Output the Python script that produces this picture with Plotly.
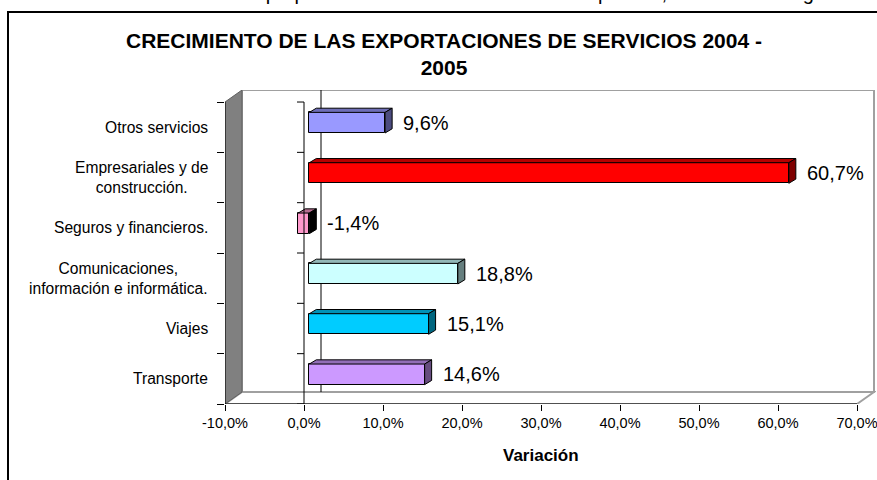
import plotly.graph_objects as go

# ---------------- data ----------------
categories = [
    "Transporte",
    "Viajes",
    "Comunicaciones,<br>información e informática.",
    "Seguros y financieros.",
    "Empresariales y de<br>construcción.",
    "Otros servicios",
]
values = [14.6, 15.1, 18.8, -1.4, 60.7, 9.6]
value_labels = ["14,6%", "15,1%", "18,8%", "-1,4%", "60,7%", "9,6%"]
bar_colors = ["#CC99FF", "#00CCFF", "#CCFFFF", "#FF99CC", "#FF0000", "#9999FF"]
tick_values = [-10, 0, 10, 20, 30, 40, 50, 60, 70]
tick_labels = ["-10,0%", "0,0%", "10,0%", "20,0%", "30,0%", "40,0%", "50,0%", "60,0%", "70,0%"]
title_text = "CRECIMIENTO DE LAS EXPORTACIONES DE SERVICIOS 2004 -<br>2005"
axis_title = "Variación"
source_text = "Fuente: Cálculos propios con datos del Banco de la República, Balanza de Pagos"

# ---------------- geometry (styling) ----------------
W, H = 877, 480
L, R, T, B = 225, 1, 90, 76
plot_w = W - L - R
plot_h = H - T - B
PX_X = 7.90          # pixels per percentage point
PX_Y = 50.33         # pixels per category
XMIN, XMAX = tick_values[0], tick_values[-1]
n = len(categories)
y_lo, y_hi = -0.5, n - 0.5
x_range = [XMIN, XMIN + plot_w / PX_X]
y_range = [y_lo, y_lo + plot_h / PX_Y]

WALL_DX, WALL_DY = 17 / PX_X, 12 / PX_Y
BAR_OFF_X, BAR_OFF_Y = 5.3 / PX_X, 4.5 / PX_Y
BAR_W = 20.6 / PX_Y
BAR_DX, BAR_DY = 7 / PX_X, 4.2 / PX_Y
TICK = 7 / PX_X

FONT = "Liberation Sans, Arial, sans-serif"


def pxx(px):
    return (px - L) / plot_w


def pxy(py):
    return (H - B - py) / plot_h


def shade(hexcol, f):
    h = hexcol.lstrip("#")
    r, g, b = (int(h[i:i + 2], 16) for i in (0, 2, 4))
    return "rgb(%d,%d,%d)" % (r * f, g * f, b * f)


def poly(pts):
    return "M " + " L ".join("%f,%f" % p for p in pts) + " Z"


shapes = []
# back wall
shapes.append(dict(type="rect", xref="x", yref="y", layer="below",
                   x0=XMIN + WALL_DX, x1=XMAX + WALL_DX, y0=y_lo + WALL_DY, y1=y_hi + WALL_DY,
                   fillcolor="white", line=dict(color="#A0A0A0", width=2)))
# floor
shapes.append(dict(type="path", xref="x", yref="y", layer="below",
                   path=poly([(XMIN, y_lo), (XMAX, y_lo), (XMAX + WALL_DX, y_lo + WALL_DY),
                              (XMIN + WALL_DX, y_lo + WALL_DY)]),
                   fillcolor="white", line=dict(color="#A0A0A0", width=2)))
# left wall
shapes.append(dict(type="path", xref="x", yref="y", layer="below",
                   path=poly([(XMIN, y_lo), (XMIN + WALL_DX, y_lo + WALL_DY),
                              (XMIN + WALL_DX, y_hi + WALL_DY), (XMIN, y_hi)]),
                   fillcolor="#808080", line=dict(color="#606060", width=1)))
# back gridline at zero
shapes.append(dict(type="line", xref="x", yref="y", layer="below",
                   x0=WALL_DX, x1=WALL_DX, y0=y_lo + WALL_DY, y1=y_hi + WALL_DY,
                   line=dict(color="black", width=1)))

# 3D faces of bars
for i, v in enumerate(values):
    a, b = BAR_OFF_X, BAR_OFF_X + v
    x0, x1 = min(a, b), max(a, b)
    yc = i + BAR_OFF_Y
    yt, yb = yc + BAR_W / 2, yc - BAR_W / 2
    shapes.append(dict(type="path", xref="x", yref="y", layer="above",
                       path=poly([(x0, yt), (x1, yt), (x1 + BAR_DX, yt + BAR_DY), (x0 + BAR_DX, yt + BAR_DY)]),
                       fillcolor=shade(bar_colors[i], 0.72), line=dict(color="black", width=1)))
    side = "black" if v < 0 else shade(bar_colors[i], 0.5)
    shapes.append(dict(type="path", xref="x", yref="y", layer="above",
                       path=poly([(x1, yb), (x1, yt), (x1 + BAR_DX, yt + BAR_DY), (x1 + BAR_DX, yb + BAR_DY)]),
                       fillcolor=side, line=dict(color="black", width=1)))

# front axis lines
for (xa, ya, xb, yb_) in [(XMIN, y_lo, XMAX, y_lo), (XMIN, y_lo, XMIN, y_hi), (0, y_lo, 0, y_hi)]:
    shapes.append(dict(type="line", xref="x", yref="y", layer="above",
                       x0=xa, y0=ya, x1=xb, y1=yb_, line=dict(color="black", width=1)))
for k in range(n + 1):
    yk = y_lo + k
    shapes.append(dict(type="line", xref="x", yref="y", layer="above",
                       x0=-TICK, x1=0, y0=yk, y1=yk, line=dict(color="black", width=1)))

# outer frame
shapes.append(dict(type="rect", xref="paper", yref="paper",
                   x0=pxx(8), x1=pxx(885), y0=pxy(490), y1=pxy(12),
                   line=dict(color="black", width=2), fillcolor="rgba(0,0,0,0)"))

fig = go.Figure()
fig.add_trace(go.Bar(
    y=[i + BAR_OFF_Y for i in range(n)], x=values, base=BAR_OFF_X,
    orientation="h", width=BAR_W,
    marker=dict(color=bar_colors, line=dict(color="black", width=1)),
    hoverinfo="skip", showlegend=False,
))

annotations = []
for i, v in enumerate(values):
    x_end = max(BAR_OFF_X, BAR_OFF_X + v) + BAR_DX
    annotations.append(dict(x=x_end, y=i + BAR_OFF_Y, xref="x", yref="y", text=value_labels[i],
                            xanchor="left", yanchor="middle", xshift=9, showarrow=False,
                            font=dict(family=FONT, size=20, color="black")))
for i, c in enumerate(categories):
    annotations.append(dict(x=pxx(210), y=i, xref="paper", yref="y", text=c,
                            xanchor="right", yanchor="middle", align="center", showarrow=False,
                            font=dict(family=FONT, size=15.6, color="black")))
annotations.append(dict(x=pxx(444), y=pxy(54), xref="paper", yref="paper", text="<b>%s</b>" % title_text,
                        xanchor="center", yanchor="middle", align="center", showarrow=False,
                        font=dict(family=FONT, size=21, color="black")))
annotations.append(dict(x=pxx(541), y=pxy(455), xref="paper", yref="paper", text="<b>%s</b>" % axis_title,
                        xanchor="center", yanchor="middle", showarrow=False,
                        font=dict(family=FONT, size=17, color="black")))
annotations.append(dict(x=pxx(472), y=pxy(-7), xref="paper", yref="paper", text=source_text,
                        xanchor="center", yanchor="middle", showarrow=False,
                        font=dict(family=FONT, size=20, color="black")))

fig.update_layout(
    width=W, height=H,
    margin=dict(l=L, r=R, t=T, b=B, pad=0),
    paper_bgcolor="white", plot_bgcolor="white",
    showlegend=False, bargap=0,
    xaxis=dict(range=x_range, tickmode="array", tickvals=tick_values, ticktext=tick_labels,
               ticks="outside", ticklen=6, tickcolor="black", tickwidth=1,
               showgrid=False, zeroline=False, showline=False, automargin=False,
               ticklabeloverflow="allow",
               tickfont=dict(family=FONT, size=14.5, color="black")),
    yaxis=dict(range=y_range, tickmode="array", tickvals=[], showticklabels=False,
               showgrid=False, zeroline=False, showline=False, automargin=False,
               minor=dict(tickmode="array", tickvals=[y_lo + k for k in range(n + 1)],
                          ticks="outside", ticklen=7, tickcolor="black", tickwidth=1, showgrid=False)),
    shapes=shapes,
    annotations=annotations,
)

fig.write_html("out.html", config={"displayModeBar": False},
               post_script="document.body.style.margin='0px';document.body.style.overflow='hidden';")
